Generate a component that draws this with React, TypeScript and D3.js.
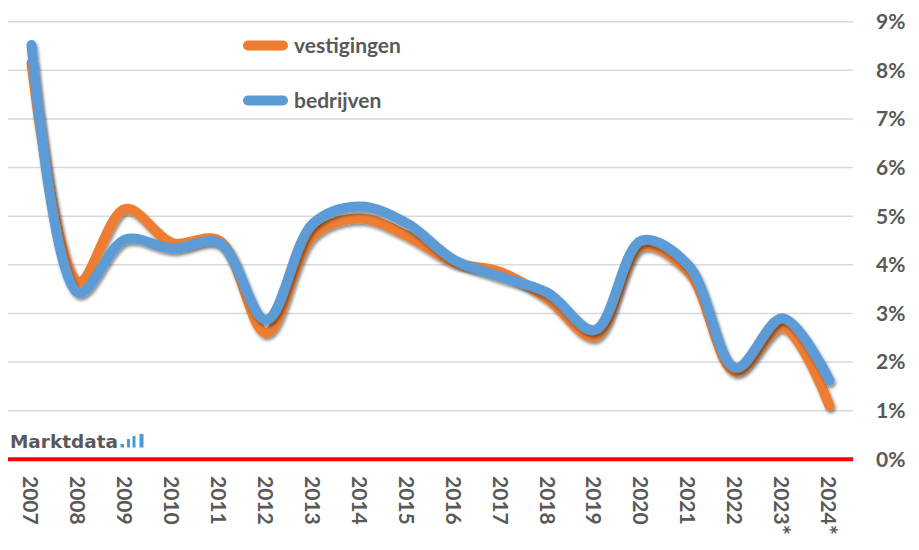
import React from "react";
import * as d3 from "d3";

const years = ["2007","2008","2009","2010","2011","2012","2013","2014","2015","2016","2017","2018","2019","2020","2021","2022","2023*","2024*"];
const vestigingen = [8.15,3.65,5.15,4.45,4.5,2.6,4.6,4.95,4.6,4.05,3.85,3.3,2.52,4.38,3.85,1.8,2.72,1.1];
const bedrijven = [8.52,3.42,4.52,4.33,4.45,2.87,4.85,5.2,4.85,4.1,3.75,3.42,2.66,4.5,3.98,1.88,2.9,1.62];
const yTicks = [0,1,2,3,4,5,6,7,8,9];
const seriesNames = ["vestigingen","bedrijven"];
const colors = ["#ED7D31","#5B9BD5"];

const W = 919, H = 550;
const left = 8, right = 853, top = 21.7, zeroY = 459.3;
const FONT = "Lato, 'Open Sans', sans-serif";
const TXT = "#595959";

export default function App() {
  const x = d3.scalePoint<string>().domain(years).range([left, right]).padding(0.5);
  const y = d3.scaleLinear().domain([0, 9]).range([zeroY, top]);
  const line = d3.line<number>()
    .x((_, i) => x(years[i]) as number)
    .y((d) => y(d))
    .curve(d3.curveCatmullRom.alpha(0.5));
  const data = [vestigingen, bedrijven];
  return (
    <svg width={W} height={H} style={{ position: "absolute", left: 0, top: 0, background: "#fff" }}>
      <defs>
        <filter id="sh" x="-10%" y="-10%" width="120%" height="120%">
          <feDropShadow dx="1.5" dy="2.5" stdDeviation="1.8" floodColor="#000" floodOpacity="0.45" />
        </filter>
      </defs>
      <rect width={W} height={H} fill="#fff" />
      {yTicks.filter((t) => t > 0).map((t) => (
        <line key={t} x1={left} x2={right} y1={y(t)} y2={y(t)} stroke="#d9d9d9" strokeWidth={1.5} />
      ))}
      {yTicks.map((t) => (
        <text key={"l" + t} x={876} y={y(t)} dy="0.35em" fontFamily={FONT} fontWeight="bold" fontSize={21} fill={TXT}>
          {t + "%"}
        </text>
      ))}
      <line x1={left} x2={right} y1={zeroY} y2={zeroY} stroke="#ff0000" strokeWidth={4} />
      {years.map((yr) => (
        <text key={yr} transform={`translate(${(x(yr) as number) - 1},476) rotate(90)`} dy="0.35em"
          fontFamily={FONT} fontWeight="bold" fontSize={21} fill={TXT}>
          {yr.replace("*", "")}
          {yr.includes("*") ? <tspan fontSize={24} dy="0.1em">*</tspan> : null}
        </text>
      ))}
      {data.map((s, i) => (
        <path key={i} d={line(s) as string} fill="none" stroke={colors[i]} strokeWidth={10}
          strokeLinecap="round" strokeLinejoin="round" filter="url(#sh)" />
      ))}
      {seriesNames.map((n, i) => (
        <g key={n}>
          <line x1={248} x2={283} y1={45.5 + i * 55} y2={45.5 + i * 55} stroke={colors[i]} strokeWidth={10} strokeLinecap="round" />
          <text x={294} y={45.5 + i * 55} dy="0.35em" fontFamily={FONT} fontWeight="bold" fontSize={21} fill={TXT}>{n}</text>
        </g>
      ))}
      <g>
        <text x={10} y={447.5} fontFamily="'DejaVu Sans', sans-serif" fontWeight="bold" fontSize={18} fill="#58595b"
          textLength={108} lengthAdjust="spacingAndGlyphs">
          Marktdata
        </text>
        <rect x={120.5} y={444} width={3.5} height={3.5} fill="#4a9ad6" />
        <rect x={127} y={439} width={3} height={8.5} fill="#4a9ad6" />
        <rect x={132.5} y={436} width={3} height={11.5} fill="#4a9ad6" />
        <rect x={139.5} y={434} width={4} height={13.5} fill="#4a9ad6" />
      </g>
    </svg>
  );
}
